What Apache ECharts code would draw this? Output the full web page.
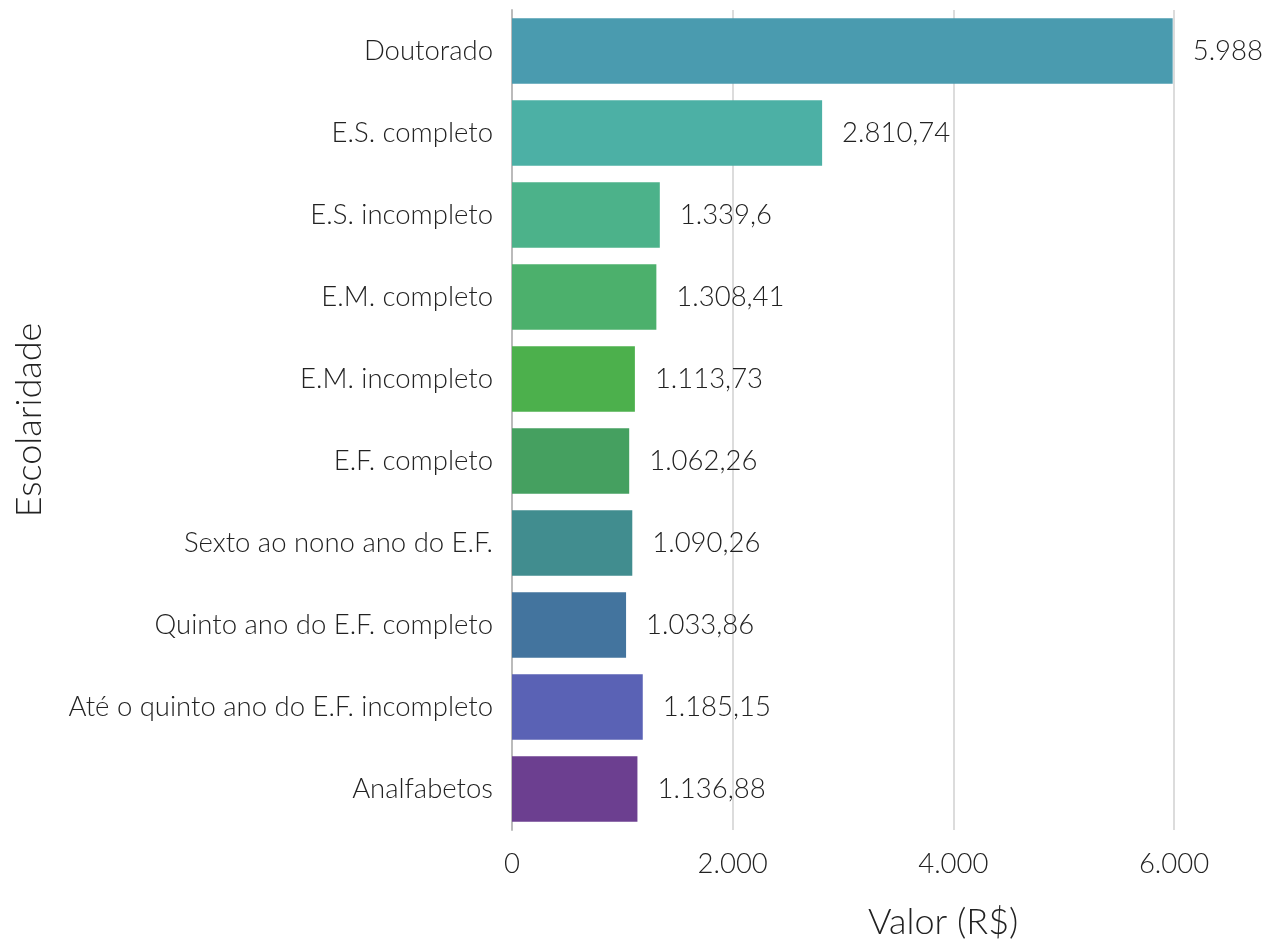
<!DOCTYPE html>
<html>
<head>
<meta charset="utf-8">
<script src="https://cdn.jsdelivr.net/npm/echarts@6/dist/echarts.min.js"></script>
<style>
  html, body { margin: 0; padding: 0; background: #fff; }
  #chart { width: 1272px; height: 939px; }
</style>
</head>
<body>
<div id="chart"></div>
<script>
// categorias de cima para baixo
const categorias = [
  'Doutorado',
  'E.S. completo',
  'E.S. incompleto',
  'E.M. completo',
  'E.M. incompleto',
  'E.F. completo',
  'Sexto ao nono ano do E.F.',
  'Quinto ano do E.F. completo',
  'Até o quinto ano do E.F. incompleto',
  'Analfabetos'
]
const valores = [5988, 2810.74, 1339.6, 1308.41, 1113.73, 1062.26, 1090.26, 1033.86, 1185.15, 1136.88]
const cores = ['#4A9BAF', '#4CB0A5', '#4CB28A', '#4CB06C', '#4CB04C', '#45A060', '#418D8F', '#43749E', '#5A62B5', '#6C3F90']

const fonte = 'Lato, "Noto Sans", sans-serif'
const fmt = v => v.toLocaleString('pt-BR', { maximumFractionDigits: 2 })

const chart = echarts.init(document.getElementById('chart'))
const option = {
  animation: false,
  grid: { left: 512, right: 98, top: 10, bottom: 109, containLabel: false },
  xAxis: {
    type: 'value',
    min: 0,
    max: 6000,
    interval: 2000,
    axisLine: { show: false },
    axisTick: { show: false },
    axisLabel: { color: '#222', fontSize: 27.5, fontFamily: fonte, fontWeight: 300, margin: 20, formatter: v => fmt(v) },
    splitLine: { lineStyle: { color: '#dcdcdc', width: 2 } }
  },
  yAxis: {
    type: 'category',
    data: categorias,
    inverse: true,
    name: 'Escolaridade',
    nameLocation: 'middle',
    nameGap: 465,
    nameTextStyle: { color: '#222', fontSize: 36, fontFamily: fonte, fontWeight: 300 },
    axisLine: { show: true, lineStyle: { color: '#bbb', width: 2 } },
    axisTick: { show: false },
    axisLabel: { color: '#222', fontSize: 27.5, fontFamily: fonte, fontWeight: 300, margin: 19 }
  },
  graphic: [{
    type: 'text',
    left: 868,
    top: 904,
    style: { text: 'Valor (R$)', fill: '#222', fontSize: 36, fontFamily: fonte, fontWeight: 300 }
  }],
  series: [{
    type: 'bar',
    barCategoryGap: '20%',
    data: valores.map((v, i) => ({ value: v, itemStyle: { color: cores[i] } })),
    label: {
      show: true,
      position: 'right',
      distance: 20,
      color: '#222',
      fontSize: 27.5,
      fontFamily: fonte,
      fontWeight: 300,
      formatter: p => fmt(p.value)
    }
  }]
}
chart.setOption(option)
</script>
</body>
</html>
